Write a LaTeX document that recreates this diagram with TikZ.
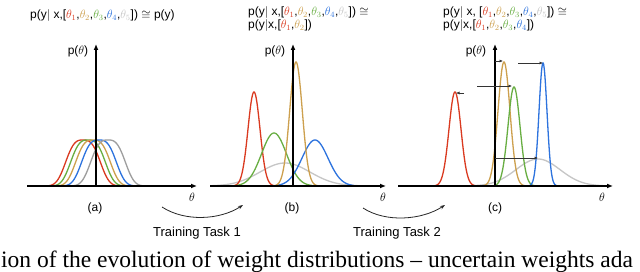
\documentclass[tikz,border=0pt]{standalone}
\usepackage{fontspec}
\setmainfont{Liberation Sans}
\newfontfamily\captionserif{Liberation Serif}
\usepackage{xcolor}
\usepackage{tikz}
\usetikzlibrary{arrows.meta}
\definecolor{wred}{RGB}{218,58,32}
\definecolor{wgold}{RGB}{205,160,78}
\definecolor{wgreen}{RGB}{104,174,66}
\definecolor{wblue}{RGB}{45,115,222}
\definecolor{wgray}{RGB}{158,158,158}
\definecolor{wlight}{RGB}{198,198,198}
\tikzset{
  beliefpicture/.style={x=1pt, y=-1pt},
  beliefaxis/.style={-{Latex[length=6pt, width=5pt]}, line width=1.2pt},
  beliefcurve/.style={line width=1.3pt, samples=80, smooth},
  beliefred/.style={beliefcurve, draw=wred},
  beliefgold/.style={beliefcurve, draw=wgold},
  beliefgreen/.style={beliefcurve, draw=wgreen},
  beliefblue/.style={beliefcurve, draw=wblue},
  beliefgray/.style={beliefcurve, draw=wgray},
  belieflight/.style={beliefcurve, draw=wlight},
  beliefshift/.style={-{Latex[length=3.5pt, width=3pt]}, line width=0.6pt, draw=black!80},
  belieftask/.style={-{Stealth[length=5pt, width=3.5pt]}, line width=0.8pt, draw=black!85},
  belieftext/.style={font=\fontsize{12}{13}\selectfont, inner sep=0pt},
  beliefformula/.style={belieftext, anchor=base west, align=left}
}

\begin{document}
\begin{tikzpicture}[beliefpicture]
\clip (0,0) rectangle (640,272);
\fill[white] (0,0) rectangle (640,272);

% panel (a)
\coordinate (a0) at (96,186);
\draw[beliefred]   plot[domain=43:123]  (\x, {186-46*exp(-(abs(\x-83)/20)^3)});
\draw[beliefgreen] plot[domain=48:128]  (\x, {186-46*exp(-(abs(\x-88)/20)^3)});
\draw[beliefgold]  plot[domain=53:133]  (\x, {186-46*exp(-(abs(\x-93)/20)^3)});
\draw[beliefblue]  plot[domain=59:139]  (\x, {186-46*exp(-(abs(\x-99)/20)^3)});
\draw[beliefgray]  plot[domain=68:148]  (\x, {186-46*exp(-(abs(\x-108)/20)^3)});
\draw[beliefaxis] (27,186) -- (197,186);
\draw[beliefaxis] (a0) -- (96,44);
\node[belieftext] (aprob) at (78,51) {p($\theta$)};
\node[belieftext] (atheta) at (192,197) {$\theta$};
\node[belieftext] (alabel) at (95,208) {(a)};
\node[beliefformula] (atitle) at (30,19) {p(y$|$ x,[\textcolor{wred}{$\theta_1$},\textcolor{wgold}{$\theta_2$},\textcolor{wgreen}{$\theta_3$},\textcolor{wblue}{$\theta_4$},\textcolor{wlight}{$\theta_5$}]) $\cong$ p(y)};

% panel (b)
\coordinate (b0) at (293,186);
\draw[belieflight] plot[domain=212:362] (\x, {186-23*exp(-((\x-285)/25)^2/2)});
\draw[beliefred]   plot[domain=230:278] (\x, {186-94*exp(-((\x-254)/6)^2/2)});
\draw[beliefgreen] plot[domain=236:312] (\x, {186-53*exp(-((\x-274)/12.5)^2/2)});
\draw[beliefblue]  plot[domain=276:354] (\x, {186-46*exp(-((\x-315)/13)^2/2)});
\draw[beliefgold]  plot[domain=272:320] (\x, {186-124*exp(-((\x-296)/6.3)^2/2)});
\draw[beliefaxis] (210,186) -- (386,186);
\draw[beliefaxis] (b0) -- (293,44);
\node[belieftext] (bprob) at (275,51) {p($\theta$)};
\node[belieftext] (btheta) at (383,197) {$\theta$};
\node[belieftext] (blabel) at (292,208) {(b)};
\node[beliefformula] (btitle) at (248,29) {p(y$|$ x,[\textcolor{wred}{$\theta_1$},\textcolor{wgold}{$\theta_2$},\textcolor{wgreen}{$\theta_3$},\textcolor{wblue}{$\theta_4$},\textcolor{wlight}{$\theta_5$}]) $\cong$\\p(y$|$x,[\textcolor{wred}{$\theta_1$},\textcolor{wgold}{$\theta_2$}])};

% panel (c)
\coordinate (c0) at (495,186);
\draw[belieflight] plot[domain=460:606] (\x, {186-27*exp(-((\x-538)/22)^2/2)});
\draw[beliefred]   plot[domain=431:479] (\x, {186-94*exp(-((\x-455)/6)^2/2)});
\draw[beliefgold]  plot[domain=480:528] (\x, {186-124*exp(-((\x-504)/6)^2/2)});
\draw[beliefgreen] plot[domain=490:538] (\x, {186-99*exp(-((\x-514)/6)^2/2)});
\draw[beliefblue]  plot[domain=527:559] (\x, {186-123*exp(-((\x-543)/4)^2/2)});
\draw[beliefaxis] (398,186) -- (613,186);
\draw[beliefaxis] (c0) -- (495,44);
\node[belieftext] (cprob) at (476,51) {p($\theta$)};
\node[belieftext] (ctheta) at (602,197) {$\theta$};
\node[belieftext] (clabel) at (495,208) {(c)};
\node[beliefformula] (ctitle) at (443,29) {p(y$|$ x, [\textcolor{wred}{$\theta_1$},\textcolor{wgold}{$\theta_2$},\textcolor{wgreen}{$\theta_3$},\textcolor{wblue}{$\theta_4$},\textcolor{wlight}{$\theta_5$}]) $\cong$\\p(y$|$x,[\textcolor{wred}{$\theta_1$},\textcolor{wgold}{$\theta_2$},\textcolor{wgreen}{$\theta_3$},\textcolor{wblue}{$\theta_4$}])};

% shifts of the peaks
\coordinate (redfrom) at (464,93);   \coordinate (redto) at (456,93);
\coordinate (goldfrom) at (495,61);  \coordinate (goldto) at (503,61);
\coordinate (greenfrom) at (477,86); \coordinate (greento) at (512,86);
\coordinate (bluefrom) at (518,63);  \coordinate (blueto) at (543,63);
\coordinate (grayfrom) at (495,158); \coordinate (grayto) at (538,158);
\draw[beliefshift] (redfrom) -- (redto);
\draw[beliefshift] (goldfrom) -- (goldto);
\draw[beliefshift] (greenfrom) -- (greento);
\draw[beliefshift] (bluefrom) -- (blueto);
\draw[beliefshift] (grayfrom) -- (grayto);

% training steps
\coordinate (taskonefrom) at (162,207); \coordinate (taskoneto) at (243,205);
\coordinate (tasktwofrom) at (363,208); \coordinate (tasktwoto) at (445,205);
\draw[belieftask] (taskonefrom) .. controls (185,222) and (220,220) .. (taskoneto);
\draw[belieftask] (tasktwofrom) .. controls (386,223) and (422,220) .. (tasktwoto);
\node[belieftext, font=\fontsize{13}{15}\selectfont] (taskone) at (197,233) {Training Task 1};
\node[belieftext, font=\fontsize{13}{15}\selectfont] (tasktwo) at (397,233) {Training Task 2};

\node[anchor=base west, inner sep=0pt, font=\captionserif\fontsize{23.5}{26}\selectfont] (caption) at (1,268) {ion of the evolution of weight distributions – uncertain weights ada};
\end{tikzpicture}
\end{document}
